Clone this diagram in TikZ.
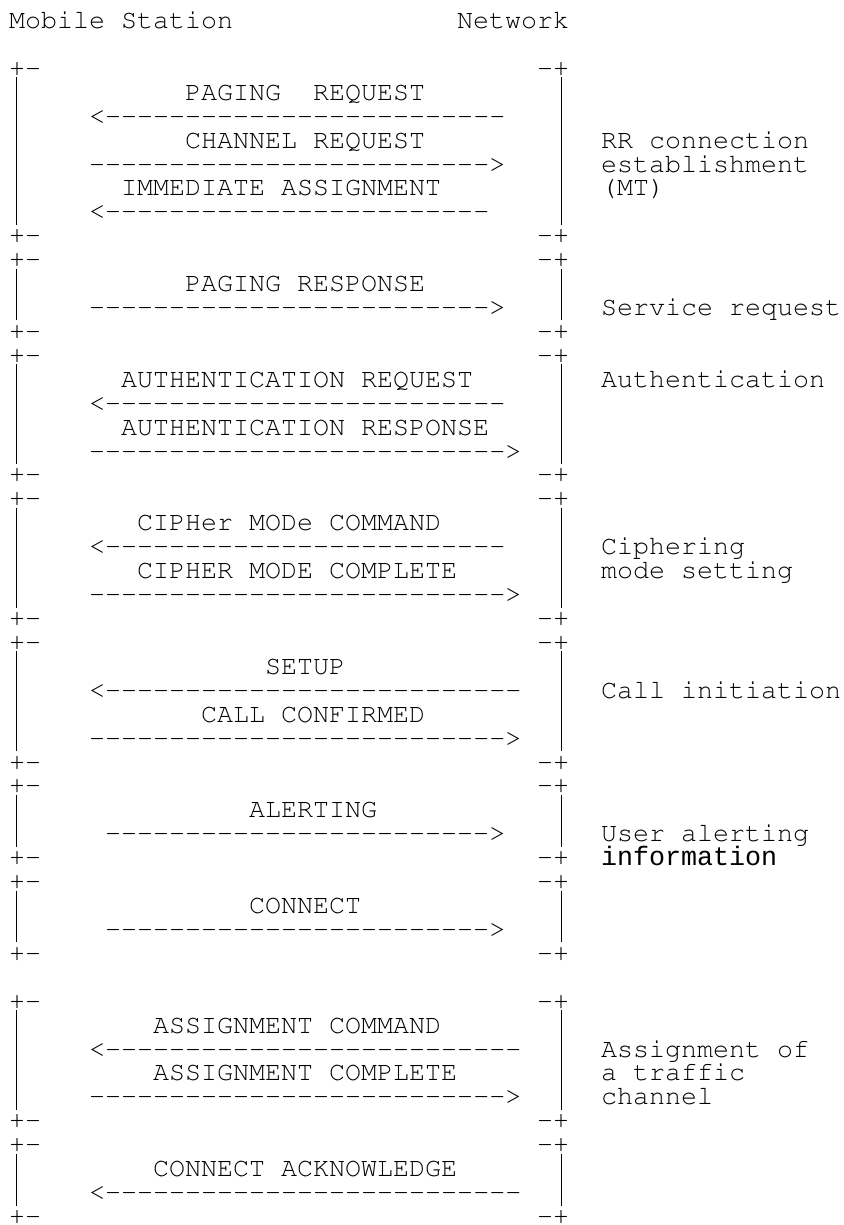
\documentclass[tikz,border=0pt]{standalone}
\usepackage[T1]{fontenc}
\usepackage{fontspec}
\newfontfamily\infofont{Liberation Mono}
\newcommand\crfont{\fontencoding{T1}\fontfamily{pcr}\fontsize{26.67}{24}\selectfont}
\newcommand\dashrow[1]{\foreach\k in {1,...,#1}{-}}

\begin{document}
\begin{tikzpicture}[x=16pt, y=-23.92pt,
                    txt/.style={anchor=base west, inner sep=0pt, font=\crfont},
                    frame/.style={line width=1pt}]
  \useasboundingbox (-9pt,28.5pt) rectangle (834pt,-1196.5pt);

  \node[txt] (ms) at (0,0) {Mobile Station};
  \node[txt] (nw) at (28,0) {Network};

  % corners and sides of the boxes
  \foreach \t/\b [count=\i] in {2/9, 10/13, 14/19, 20/25, 26/31, 32/35, 36/39, 41/46, 47/50} {
    \node[txt] (lt\i) at (0,\t) {+-};
    \node[txt] (rt\i) at (33,\t) {-+};
    \node[txt] (lb\i) at (0,\b) {+-};
    \node[txt] (rb\i) at (33,\b) {-+};
    \draw[frame] ([shift={(8pt,-1pt)}]lt\i.base west) -- ([shift={(8pt,19pt)}]lb\i.base west);
    \draw[frame] ([shift={(24pt,-1pt)}]rt\i.base west) -- ([shift={(24pt,19pt)}]rb\i.base west);
  }

  % messages
  \node[txt] (preq) at (11,3) {PAGING\ \ REQUEST};
  \node[txt] (preqa) at (5,4) {<\dashrow{25}};
  \node[txt] (chreq) at (11,5) {CHANNEL REQUEST};
  \node[txt] (chreqa) at (5,6) {\dashrow{25}>};
  \node[txt] (imass) at (7,7) {IMMEDIATE ASSIGNMENT};
  \node[txt] (imassa) at (5,8) {<\dashrow{24}};

  \node[txt] (presp) at (11,11) {PAGING RESPONSE};
  \node[txt] (prespa) at (5,12) {\dashrow{25}>};

  \node[txt] (authreq) at (7,15) {AUTHENTICATION REQUEST};
  \node[txt] (authreqa) at (5,16) {<\dashrow{25}};
  \node[txt] (authresp) at (7,17) {AUTHENTICATION RESPONSE};
  \node[txt] (authrespa) at (5,18) {\dashrow{26}>};

  \node[txt] (ciphcmd) at (8,21) {CIPHer MODe COMMAND};
  \node[txt] (ciphcmda) at (5,22) {<\dashrow{25}};
  \node[txt] (ciphcmp) at (8,23) {CIPHER MODE COMPLETE};
  \node[txt] (ciphcmpa) at (5,24) {\dashrow{26}>};

  \node[txt] (setup) at (16,27) {SETUP};
  \node[txt] (setupa) at (5,28) {<\dashrow{26}};
  \node[txt] (callconf) at (12,29) {CALL CONFIRMED};
  \node[txt] (callconfa) at (5,30) {\dashrow{26}>};

  \node[txt] (alert) at (15,33) {ALERTING};
  \node[txt] (alerta) at (6,34) {\dashrow{24}>};

  \node[txt] (conn) at (15,37) {CONNECT};
  \node[txt] (conna) at (6,38) {\dashrow{24}>};

  \node[txt] (asgcmd) at (9,42) {ASSIGNMENT COMMAND};
  \node[txt] (asgcmda) at (5,43) {<\dashrow{26}};
  \node[txt] (asgcmp) at (9,44) {ASSIGNMENT COMPLETE};
  \node[txt] (asgcmpa) at (5,45) {\dashrow{26}>};

  \node[txt] (connack) at (9,48) {CONNECT ACKNOWLEDGE};
  \node[txt] (connacka) at (5,49) {<\dashrow{26}};

  % procedure names
  \node[txt] (rr1) at (37,5) {RR connection};
  \node[txt] (rr2) at (37,6) {establishment};
  \node[txt] (rr3) at (37,7) {(MT)};
  \node[txt] (srv) at (37,12) {Service request};
  \node[txt] (auth) at (37,15) {Authentication};
  \node[txt] (ciph1) at (37,22) {Ciphering};
  \node[txt] (ciph2) at (37,23) {mode setting};
  \node[txt] (call) at (37,28) {Call initiation};
  \node[txt] (user1) at (37,34) {User alerting};
  \node[txt,font=\infofont\fontsize{26.67}{24}\selectfont] (user2) at (37,35) {information};
  \node[txt] (asg1) at (37,43) {Assignment of};
  \node[txt] (asg2) at (37,44) {a traffic};
  \node[txt] (asg3) at (37,45) {channel};

\end{tikzpicture}
\end{document}
